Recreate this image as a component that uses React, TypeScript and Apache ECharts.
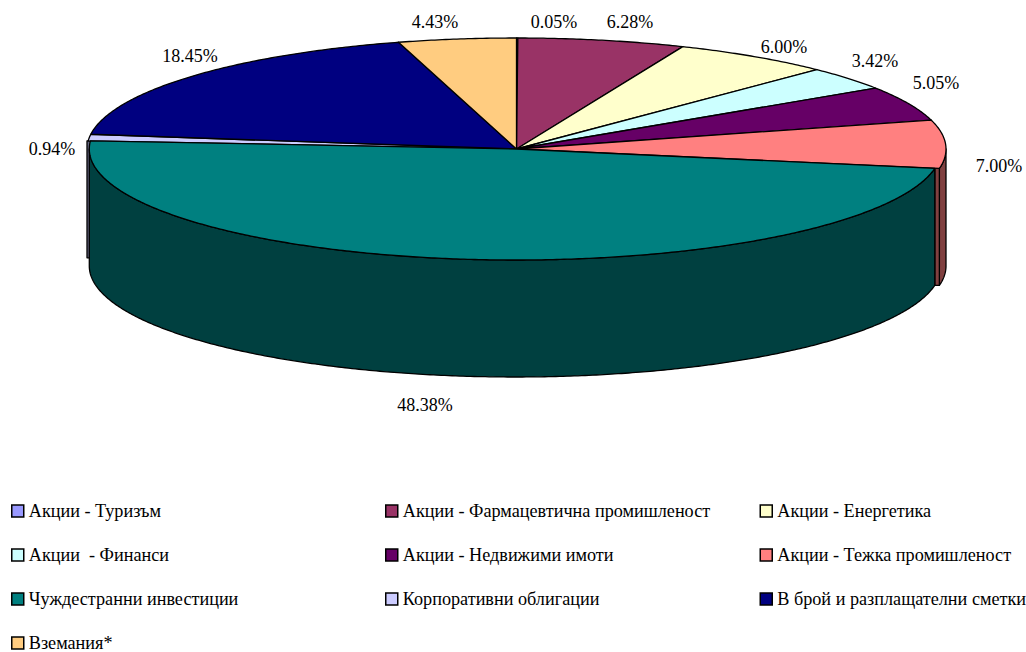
import React, { useEffect, useRef } from "react";
import * as echarts from "echarts";

const categories = [
  "Акции - Туризъм",
  "Акции - Фармацевтична промишленост",
  "Акции - Енергетика",
  "Акции  - Финанси",
  "Акции - Недвижими имоти",
  "Акции - Тежка промишленост",
  "Чуждестранни инвестиции",
  "Корпоративни облигации",
  "В брой и разплащателни сметки",
  "Вземания*",
];
const values = [0.05, 6.28, 6.0, 3.42, 5.05, 7.0, 48.38, 0.94, 18.45, 4.43];
const colors = ["#9999FF", "#993366", "#FFFFCC", "#CCFFFF", "#660066", "#FF8080", "#008080", "#CCCCFF", "#000080", "#FFCC80"];
const wallColors = ["#4D4D80", "#4D1A33", "#808066", "#668080", "#330033", "#804040", "#004040", "#666680", "#000040", "#806640"];
const legendColumns = [
  { left: 11, names: [0, 3, 6, 9] },
  { left: 385, names: [1, 4, 7] },
  { left: 759.5, names: [2, 5, 8] },
];
// label anchor points, in page pixels, one per category
const labelCentres = [
  [554, 22], [630, 22], [784, 47], [875, 61], [936, 83],
  [999, 166], [425, 405], [52, 149], [190, 56], [435, 22],
];

const FONT = '"Liberation Serif", "Times New Roman", serif';
const CX = 516.5, CY = 149, RX = 429.5, RY = 111, DEPTH = 117;
const BIG = 6; // index of the slice nearest the viewer
const BIG_CX = 515.3, BIG_RX = 426;
const CUT = 4.5;

const total = values.reduce((a, b) => a + b, 0);
const cumulative: number[] = [0];
values.forEach((v, i) => cumulative.push(cumulative[i] + v));
const angleAt = (i: number) => (cumulative[i] / total) * 360;

function pt(deg: number, cx: number, rx: number): number[] {
  const r = (deg * Math.PI) / 180;
  return [cx + rx * Math.sin(r), CY - RY * Math.cos(r)];
}
function arc(a0: number, a1: number, cx: number, rx: number): number[][] {
  const n = Math.max(2, Math.ceil(Math.abs(a1 - a0) / 0.5));
  const out: number[][] = [];
  for (let k = 0; k <= n; k++) out.push(pt(a0 + ((a1 - a0) * k) / n, cx, rx));
  return out;
}
const lineStyle = { stroke: "#000", lineWidth: 1.3, lineJoin: "round" as const };

function renderSlice(i: number) {
  const a0 = angleAt(i);
  const a1 = angleAt(i + 1);
  const big = i === BIG;
  const cx = big ? BIG_CX : CX;
  const rx = big ? BIG_RX : RX;
  const children: any[] = [];
  const wall = (from: number, to: number, z2: number) => {
    const top = arc(from, to, cx, rx);
    const bottom = top.map(([x, y]) => [x, y + DEPTH]).reverse();
    children.push({
      type: "polygon",
      z2,
      shape: { points: top.concat(bottom) },
      style: { fill: wallColors[i], ...lineStyle },
    });
  };
  const from = Math.max(a0, 90);
  const to = Math.min(a1, 270);
  if (from < to) wall(from, to, big ? 3 : 1);
  // faces of the cut left visible beside the nearest slice
  const cutFace = (deg: number, dir: number, xEdge?: number) => {
    const [px, y] = pt(deg, CX, RX);
    const x = xEdge ?? px;
    const off = dir * CUT;
    children.push({
      type: "polygon",
      z2: 2,
      shape: { points: [[x, y], [x + off, y], [x + off, y + DEPTH], [x, y + DEPTH]] },
      style: { fill: wallColors[i], ...lineStyle },
    });
  };
  if (i === BIG - 1) cutFace(a1, -1);
  if (i === BIG + 1) cutFace(a0, 1, CX - RX);
  children.push({
    type: "polygon",
    z2: 10 + (big ? 5 : 0),
    shape: { points: [[CX, CY], ...arc(a0, a1, cx, rx)] },
    style: { fill: colors[i], ...lineStyle },
  });
  return { type: "group", children };
}

export default function App() {
  const ref = useRef<HTMLDivElement>(null);
  useEffect(() => {
    const chart = echarts.init(ref.current!, undefined, { renderer: "svg" });
    chart.setOption({
      animation: false,
      backgroundColor: "#fff",
      legend: legendColumns.map((c) => ({
        left: c.left,
        top: 502,
        height: 300,
        orient: "vertical",
        icon: "rect",
        itemWidth: 12,
        itemHeight: 12,
        itemGap: 26,
        selectedMode: false,
        padding: 0,
        data: c.names.map((n) => categories[n]),
        itemStyle: { borderColor: "#000", borderWidth: 1.5 },
        textStyle: { fontFamily: FONT, fontSize: 18.2, color: "#000", lineHeight: 16 },
      })),
      series: categories.map((name, i) => ({
        type: "custom",
        name,
        coordinateSystem: "none",
        silent: true,
        itemStyle: { color: colors[i] },
        data: [values[i]],
        renderItem: () => renderSlice(i),
      })),
      graphic: values.map((v, i) => ({
        type: "text",
        x: labelCentres[i][0],
        y: labelCentres[i][1],
        silent: true,
        style: {
          text: v.toFixed(2) + "%",
          fontFamily: FONT,
          fontSize: 18,
          fill: "#000",
          align: "center",
          verticalAlign: "middle",
        },
      })),
    });
    return () => chart.dispose();
  }, []);
  return <div ref={ref} style={{ position: "absolute", left: 0, top: 0, width: 1026, height: 652 }} />;
}
